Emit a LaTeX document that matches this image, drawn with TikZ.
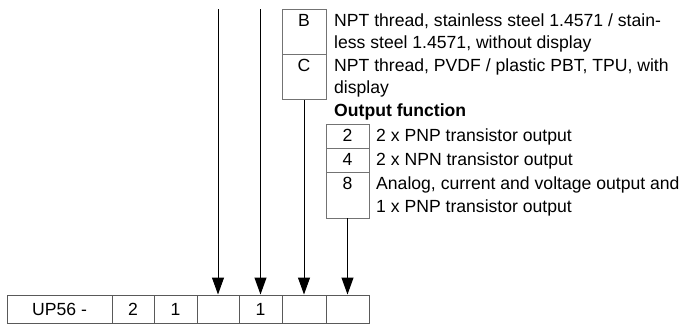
\documentclass[tikz,border=0pt]{standalone}
\usepackage{fontspec}
\setmainfont{Liberation Sans}
\usetikzlibrary{arrows.meta}
\begin{document}
\begin{tikzpicture}[x=1pt,y=-1pt,
  every node/.style={inner sep=0pt, font=\fontsize{17.6}{22}\selectfont},
  boxcell/.style={draw=black!55, line width=0.9pt, rectangle, minimum height=#1},
  rowcell/.style={draw=black!65, line width=1pt, rectangle, minimum height=28pt},
  arr/.style={draw=black, line width=1pt, -{Triangle[width=12pt,length=17pt]}},
  txt/.style={anchor=base west},
  lbl/.style={anchor=base}
]
\useasboundingbox (0,0) rectangle (683,326);

% bottom row
\node[rowcell, minimum width=105pt] (c1) at (59.5,309) {UP56 -};
\node[rowcell, minimum width=42pt] (c2) at (133,309) {2};
\node[rowcell, minimum width=43pt] (c3) at (175.5,309) {1};
\node[rowcell, minimum width=42pt] (c4) at (218,309) {};
\node[rowcell, minimum width=43pt] (c5) at (260.5,309) {1};
\node[rowcell, minimum width=44pt] (c6) at (304,309) {};
\node[rowcell, minimum width=43pt] (c7) at (347.5,309) {};

% B / C box
\node[boxcell=45pt, minimum width=44pt] (bB) at (304,32) {};
\node[boxcell=45pt, minimum width=44pt] (bC) at (304,77) {};
\node[lbl] (lB) at (304,26.5) {B};
\node[lbl] (lC) at (304,71.5) {C};
\node[txt] (tB1) at (334,26.5) {NPT thread, stainless steel 1.4571 / stain-};
\node[txt] (tB2) at (334,49) {less steel 1.4571, without display};
\node[txt] (tC1) at (334,71.5) {NPT thread, PVDF / plastic PBT, TPU, with};
\node[txt] (tC2) at (334,94) {display};
\node[txt, font=\fontsize{17.6}{22}\bfseries] (tOut) at (334,116.5) {Output function};

% output box
\node[boxcell=24pt, minimum width=43pt] (o2) at (347.5,136) {};
\node[boxcell=24pt, minimum width=43pt] (o4) at (347.5,160) {};
\node[boxcell=46pt, minimum width=43pt] (o8) at (347.5,195) {};
\node[lbl] (l2) at (347.5,141.5) {2};
\node[lbl] (l4) at (347.5,165.5) {4};
\node[lbl] (l8) at (347.5,189.5) {8};
\node[txt] (t2) at (376,141.5) {2 x PNP transistor output};
\node[txt] (t4) at (376,165.5) {2 x NPN transistor output};
\node[txt] (t8a) at (376,189.5) {Analog, current and voltage output and};
\node[txt] (t8b) at (376,212) {1 x PNP transistor output};

% connectors
\coordinate (top1) at (218,9.5);
\coordinate (top2) at (260.5,9.5);
\draw[arr] (top1) -- (c4.north);
\draw[arr] (top2) -- (c5.north);
\draw[arr] (bC.south) -- (c6.north);
\draw[arr] (o8.south) -- (c7.north);
\end{tikzpicture}
\end{document}
